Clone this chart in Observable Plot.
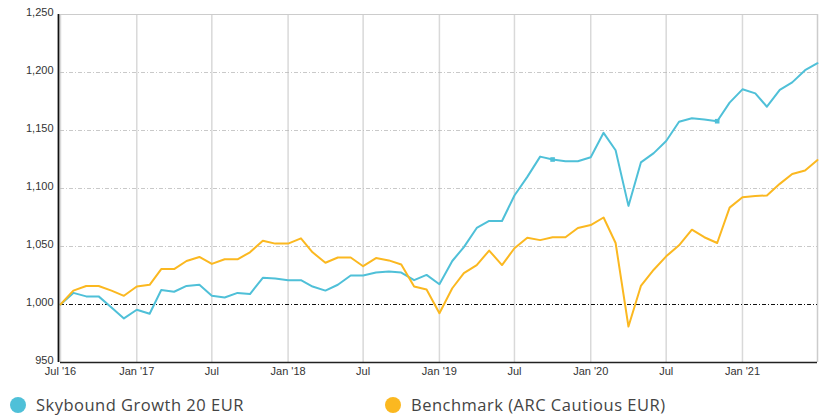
<!DOCTYPE html>
<html>
<head>
<meta charset="utf-8">
<script src="https://cdn.jsdelivr.net/npm/d3@7"></script>
<script src="https://cdn.jsdelivr.net/npm/@observablehq/plot@0.6"></script>
<style>
  body { margin: 0; background: #fff; width: 825px; height: 416px; overflow: hidden; }
  #chart { position: relative; width: 825px; height: 416px; }
  .legend { position: absolute; top: 393px; left: 0; width: 825px; height: 24px;
            font-family: "Open Sans", Lato, sans-serif; font-size: 16.5px; letter-spacing: 0.5px; color: #444; }
  .item { position: absolute; top: 0; display: flex; align-items: center; white-space: nowrap; }
  .sw { width: 16px; height: 16px; border-radius: 50%; margin-right: 10px; }
</style>
</head>
<body>
<div id="chart"></div>
<script>
// ---- data ----
const startMonth = "2016-07-01";
const seriesNames = ["Skybound Growth 20 EUR", "Benchmark (ARC Cautious EUR)"];
const seriesColors = ["#4fc0d8", "#fbb820"];
const skybound = [
  1000, 1010, 1007, 1007, 997.5, 988, 995.5, 992, 1012.5, 1011,
  1016, 1017, 1007.5, 1006, 1010, 1009, 1023, 1022.5, 1021, 1021,
  1015.5, 1012, 1017, 1025, 1025, 1027.5, 1028.5, 1027.5, 1021, 1025.5,
  1017.5, 1037.5, 1049.5, 1066, 1072, 1072, 1094, 1110, 1127.5, 1125,
  1123.5, 1123.5, 1127, 1148, 1133, 1085, 1122.5, 1130.5, 1141, 1157.5,
  1160.5, 1159.5, 1158, 1174, 1185.5, 1182, 1170.5, 1185, 1191.5, 1202,
  1208
];
const benchmark = [
  1000, 1012, 1016, 1016, 1012, 1007.5, 1015.5, 1017, 1030.5, 1030.5,
  1037.5, 1041, 1035, 1039, 1039, 1045, 1055, 1052.5, 1052.5, 1057,
  1045, 1036, 1040.5, 1040.5, 1033, 1040, 1038, 1034.5, 1015.5, 1013,
  992.5, 1014, 1027, 1034, 1046.5, 1034, 1048.5, 1057.5, 1055.5, 1058,
  1058, 1066, 1068.5, 1075, 1053, 981, 1016, 1030, 1041.5, 1051,
  1064.5, 1058, 1053, 1083.5, 1092.5, 1093.5, 1094, 1104, 1112.5, 1115.5,
  1124.5
];
const markerIdx = [39, 52]; // small square markers on the fund line
const xTickDates = ["2016-07-01","2017-01-01","2017-07-01","2018-01-01","2018-07-01",
                    "2019-01-01","2019-07-01","2020-01-01","2020-07-01","2021-01-01"];
const xTickLabels = ["Jul '16","Jan '17","Jul","Jan '18","Jul","Jan '19","Jul","Jan '20","Jul","Jan '21"];
const yTicks = [950, 1000, 1050, 1100, 1150, 1200, 1250];
const yGrid = [1050, 1100, 1150, 1200];

// ---- build table ----
const start = new Date(startMonth);
const dates = skybound.map((_, i) => d3.utcMonth.offset(start, i));
const rows = [];
skybound.forEach((v, i) => rows.push({date: dates[i], value: v, series: seriesNames[0]}));
benchmark.forEach((v, i) => rows.push({date: dates[i], value: v, series: seriesNames[1]}));
const markers = markerIdx.map(i => ({date: dates[i], value: skybound[i]}));
const tickDates = xTickDates.map(d => new Date(d));
const labelOf = new Map(tickDates.map((d, i) => [+d, xTickLabels[i]]));
const endDate = dates[dates.length - 1];

const plot = Plot.plot({
  width: 825,
  height: 385,
  marginLeft: 60,
  marginRight: 8,
  marginTop: 14,
  marginBottom: 23,
  style: {fontFamily: "Arial, 'Liberation Sans', sans-serif", fontSize: "11px", color: "#333", background: "#fff"},
  x: {type: "utc", domain: [start, endDate], label: null},
  y: {domain: [950, 1250], label: null},
  color: {domain: seriesNames, range: seriesColors},
  marks: [
    Plot.ruleX(tickDates, {stroke: "#d9d9d9", strokeWidth: 1.5}),
    Plot.ruleX([endDate], {stroke: "#cccccc", strokeWidth: 1.5}),
    Plot.ruleY([1250], {stroke: "#cccccc", strokeWidth: 1}),
    Plot.ruleY(yGrid, {stroke: "#bbbbbb", strokeWidth: 0.8, strokeDasharray: "4,2,1,2"}),
    Plot.ruleY([1000], {stroke: "#111", strokeWidth: 1, strokeDasharray: "4,2,1,2"}),
    Plot.line(rows, {x: "date", y: "value", z: "series", stroke: "series", strokeWidth: 2, strokeLinejoin: "round"}),
    Plot.dot(markers, {x: "date", y: "value", symbol: "square", r: 2.6, fill: seriesColors[0], stroke: "none"}),
    Plot.ruleY([950], {stroke: "#222", strokeWidth: 1.5}),
    Plot.ruleX([start], {stroke: "#111", strokeWidth: 1.8, dx: -2}),
    Plot.axisY({ticks: yTicks, tickFormat: d3.format(","), tickSize: 0, tickPadding: 7, fontSize: 11, label: null, dy: -2}),
    Plot.axisX({ticks: tickDates, tickFormat: d => labelOf.get(+d), tickSize: 0, tickPadding: 5, fontSize: 11, label: null})
  ]
});
const chart = document.getElementById("chart");
chart.appendChild(plot);

const legend = document.createElement("div");
legend.className = "legend";
const lefts = [10, 385];
seriesNames.forEach((n, i) => {
  const it = document.createElement("div");
  it.className = "item";
  it.style.left = lefts[i] + "px";
  const sw = document.createElement("span");
  sw.className = "sw";
  sw.style.background = seriesColors[i];
  const t = document.createElement("span");
  t.textContent = n;
  it.appendChild(sw); it.appendChild(t);
  legend.appendChild(it);
});
chart.appendChild(legend);
</script>
</body>
</html>
